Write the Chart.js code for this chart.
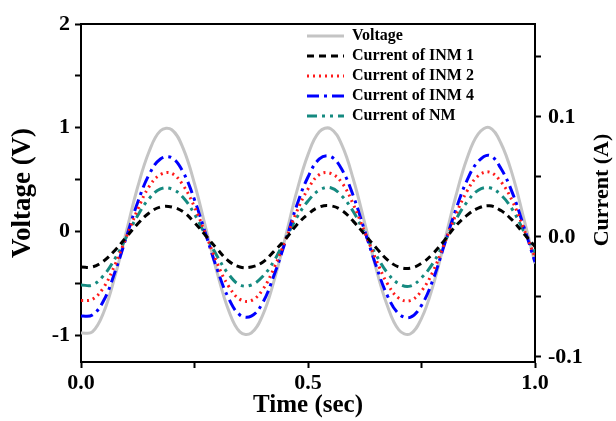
<!DOCTYPE html>
<html>
<head>
<meta charset="utf-8">
<script src="https://cdn.jsdelivr.net/npm/chart.js"></script>
<style>
  html, body { margin: 0; padding: 0; background: #fff; }
  #wrap { width: 616px; height: 421px; }
</style>
</head>
<body>
<div id="wrap"><canvas id="chartCanvas" width="616" height="421"></canvas></div>
<script>
const timeSec = [0, 0.025, 0.05, 0.075, 0.1, 0.125, 0.15, 0.175, 0.2, 0.225,
    0.25, 0.275, 0.3, 0.325, 0.35, 0.375, 0.4, 0.425, 0.45, 0.475,
    0.5, 0.525, 0.55, 0.575, 0.6, 0.625, 0.65, 0.675, 0.7, 0.725,
    0.75, 0.775, 0.8, 0.825, 0.85, 0.875, 0.9, 0.925, 0.95, 0.975, 1.0];

// Spannung (V) - linke Achse
const voltage = [-0.98, -0.97, -0.78, -0.43, 0.00, 0.43, 0.77, 0.97, 0.98, 0.80,
    0.46, 0.03, -0.40, -0.76, -0.97, -0.98, -0.81, -0.48, -0.06, 0.38,
    0.74, 0.96, 0.99, 0.83, 0.50, 0.08, -0.36, -0.72, -0.95, -0.99,
    -0.84, -0.53, -0.11, 0.33, 0.70, 0.94, 1.00, 0.85, 0.55, 0.13, -0.31];

// Ströme (A) - rechte Achse
const currentINM1 = [-0.025, -0.025, -0.020, -0.011, 0.000, 0.011, 0.020, 0.025, 0.025, 0.021,
    0.012, 0.001, -0.010, -0.020, -0.025, -0.025, -0.021, -0.012, -0.002, 0.010,
    0.019, 0.025, 0.026, 0.022, 0.013, 0.002, -0.009, -0.019, -0.025, -0.026,
    -0.022, -0.014, -0.003, 0.009, 0.018, 0.024, 0.026, 0.022, 0.014, 0.003, -0.008];
const currentINM2 = [-0.053, -0.052, -0.042, -0.023, 0.000, 0.023, 0.042, 0.052, 0.053, 0.043,
    0.025, 0.002, -0.022, -0.041, -0.052, -0.053, -0.044, -0.026, -0.003, 0.021,
    0.040, 0.052, 0.053, 0.045, 0.027, 0.004, -0.019, -0.039, -0.051, -0.053,
    -0.045, -0.029, -0.006, 0.018, 0.038, 0.051, 0.054, 0.046, 0.030, 0.007, -0.017];
const currentINM4 = [-0.066, -0.065, -0.053, -0.029, 0.000, 0.029, 0.052, 0.065, 0.066, 0.054,
    0.031, 0.002, -0.027, -0.051, -0.065, -0.066, -0.055, -0.032, -0.004, 0.026,
    0.050, 0.065, 0.067, 0.056, 0.034, 0.005, -0.024, -0.049, -0.064, -0.067,
    -0.057, -0.036, -0.007, 0.022, 0.047, 0.063, 0.068, 0.057, 0.037, 0.009, -0.021];
const currentNM = [-0.040, -0.040, -0.032, -0.018, 0.000, 0.018, 0.032, 0.040, 0.040, 0.033,
    0.019, 0.001, -0.016, -0.031, -0.040, -0.040, -0.033, -0.020, -0.002, 0.016,
    0.030, 0.039, 0.041, 0.034, 0.021, 0.003, -0.015, -0.030, -0.039, -0.041,
    -0.034, -0.022, -0.005, 0.014, 0.029, 0.039, 0.041, 0.035, 0.023, 0.005, -0.013];

// Achsenticks
const xTicks = [0, 0.25, 0.5, 0.75, 1];
const xLabels = [0, 0.5, 1];
const voltTicks = [-1, -0.5, 0, 0.5, 1, 1.5, 2];
const voltLabels = [-1, 0, 1, 2];
const currTicks = [-0.1, -0.05, 0, 0.05, 0.1, 0.15];
const currLabels = [-0.1, 0, 0.1];
const currentTitle = 'Current (A)';

const serif = "'Liberation Serif', 'Times New Roman', serif";
const toPoints = vals => timeSec.map((t, i) => ({ x: t, y: vals[i] }));

// Legende in die rechte obere Ecke des Plotbereichs schieben
const legendShift = {
    id: 'legendShift',
    afterLayout(chart) {
        const lg = chart.legend;
        if (!lg) return;
        const w = lg.width, h = lg.height;
        lg.left = chart.chartArea.left + 222;
        lg.right = lg.left + w;
        lg.top = chart.chartArea.top;
        lg.bottom = lg.top + h;
    }
};

// Titel der rechten Achse, von unten nach oben gelesen
const rightTitle = {
    id: 'rightTitle',
    afterDraw(chart) {
        const s = chart.scales.y1;
        const c = chart.ctx;
        c.save();
        c.translate(s.right - 14, (chart.chartArea.top + chart.chartArea.bottom) / 2 - 3);
        c.rotate(-Math.PI / 2);
        c.font = 'bold 22px ' + serif;
        c.fillStyle = '#000';
        c.textAlign = 'center';
        c.textBaseline = 'middle';
        c.fillText(currentTitle, 0, 0);
        c.restore();
    }
};

const ctx = document.getElementById('chartCanvas').getContext('2d');
new Chart(ctx, {
    type: 'line',
    data: {
        datasets: [
            {
                label: 'Voltage',
                data: toPoints(voltage),
                yAxisID: 'y', xAxisID: 'x',
                borderColor: '#c4c4c4',
                borderWidth: 3,
                order: 5
            },
            {
                label: 'Current of INM 1',
                data: toPoints(currentINM1),
                yAxisID: 'y1', xAxisID: 'x',
                borderColor: '#000000',
                borderWidth: 3,
                borderDash: [7, 5],
                order: 1
            },
            {
                label: 'Current of INM 2',
                data: toPoints(currentINM2),
                yAxisID: 'y1', xAxisID: 'x',
                borderColor: '#ff1a1a',
                borderWidth: 3,
                borderDash: [2, 4],
                order: 2
            },
            {
                label: 'Current of INM 4',
                data: toPoints(currentINM4),
                yAxisID: 'y1', xAxisID: 'x',
                borderColor: '#0000ff',
                borderWidth: 3,
                borderDash: [12, 5, 3, 5],
                order: 3
            },
            {
                label: 'Current of NM',
                data: toPoints(currentNM),
                yAxisID: 'y1', xAxisID: 'x',
                borderColor: '#158a80',
                borderWidth: 3,
                borderDash: [10, 5, 3, 5, 3, 5],
                order: 4
            }
        ]
    },
    options: {
        responsive: false,
        animation: false,
        devicePixelRatio: 1,
        layout: { padding: 0 },
        elements: {
            point: { radius: 0 },
            line: { tension: 0.4, fill: false }
        },
        plugins: {
            tooltip: { enabled: false },
            legend: {
                position: 'chartArea',
                align: 'start',
                labels: {
                    usePointStyle: true,
                    pointStyle: 'line',
                    pointStyleWidth: 37,
                    padding: 4,
                    color: '#000',
                    font: { family: serif, size: 16, weight: 'bold' },
                    sort: (a, b) => a.datasetIndex - b.datasetIndex,
                    generateLabels(chart) {
                        const items = Chart.defaults.plugins.legend.labels.generateLabels(chart);
                        items.forEach(it => {
                            const ds = chart.data.datasets[it.datasetIndex];
                            it.lineDash = ds.borderDash || [];
                            it.lineWidth = ds.borderWidth;
                            it.strokeStyle = ds.borderColor;
                        });
                        return items;
                    }
                }
            }
        },
        scales: {
            x: {
                type: 'linear',
                position: 'bottom',
                min: 0,
                max: 1,
                afterBuildTicks: s => { s.ticks = xTicks.map(v => ({ value: v })); },
                afterFit: s => { s.height = 59; },
                ticks: {
                    autoSkip: false,
                    maxRotation: 0,
                    padding: 2,
                    color: '#000',
                    font: { family: serif, size: 22, weight: 'bold' },
                    callback: v => xLabels.includes(v) ? v.toFixed(1) : ''
                },
                grid: { drawOnChartArea: false, tickLength: 6, tickWidth: 2, tickColor: '#000' },
                border: { color: '#000', width: 2 },
                title: {
                    display: true,
                    text: 'Time (sec)',
                    color: '#000',
                    padding: 0,
                    font: { family: serif, size: 25, weight: 'bold' }
                }
            },
            xTop: {
                type: 'linear',
                position: 'top',
                min: 0,
                max: 1,
                afterFit: s => { s.height = 24; },
                ticks: { display: false },
                grid: { display: false },
                border: { color: '#000', width: 2 }
            },
            y: {
                type: 'linear',
                position: 'left',
                min: -1.26,
                max: 2,
                afterBuildTicks: s => { s.ticks = voltTicks.map(v => ({ value: v })); },
                afterFit: s => { s.width = 81; },
                ticks: {
                    autoSkip: false,
                    padding: 5,
                    color: '#000',
                    font: { family: serif, size: 22, weight: 'bold' },
                    callback: v => voltLabels.includes(v) ? String(v) : ''
                },
                grid: { drawOnChartArea: false, tickLength: 6, tickWidth: 2, tickColor: '#000' },
                border: { color: '#000', width: 2 },
                title: {
                    display: true,
                    text: 'Voltage (V)',
                    color: '#000',
                    padding: { top: 7, bottom: 0 },
                    font: { family: serif, size: 27, weight: 'bold' }
                }
            },
            y1: {
                type: 'linear',
                position: 'right',
                min: -0.1042,
                max: 0.1775,
                afterBuildTicks: s => { s.ticks = currTicks.map(v => ({ value: v })); },
                afterFit: s => { s.width = 81; },
                ticks: {
                    autoSkip: false,
                    padding: 7,
                    color: '#000',
                    font: { family: serif, size: 22, weight: 'bold' },
                    callback: v => currLabels.includes(v) ? v.toFixed(1) : ''
                },
                grid: { drawOnChartArea: false, tickLength: 6, tickWidth: 2, tickColor: '#000' },
                border: { color: '#000', width: 2 },
                title: { display: false }
            }
        }
    },
    plugins: [legendShift, rightTitle]
});
</script>
</body>
</html>
